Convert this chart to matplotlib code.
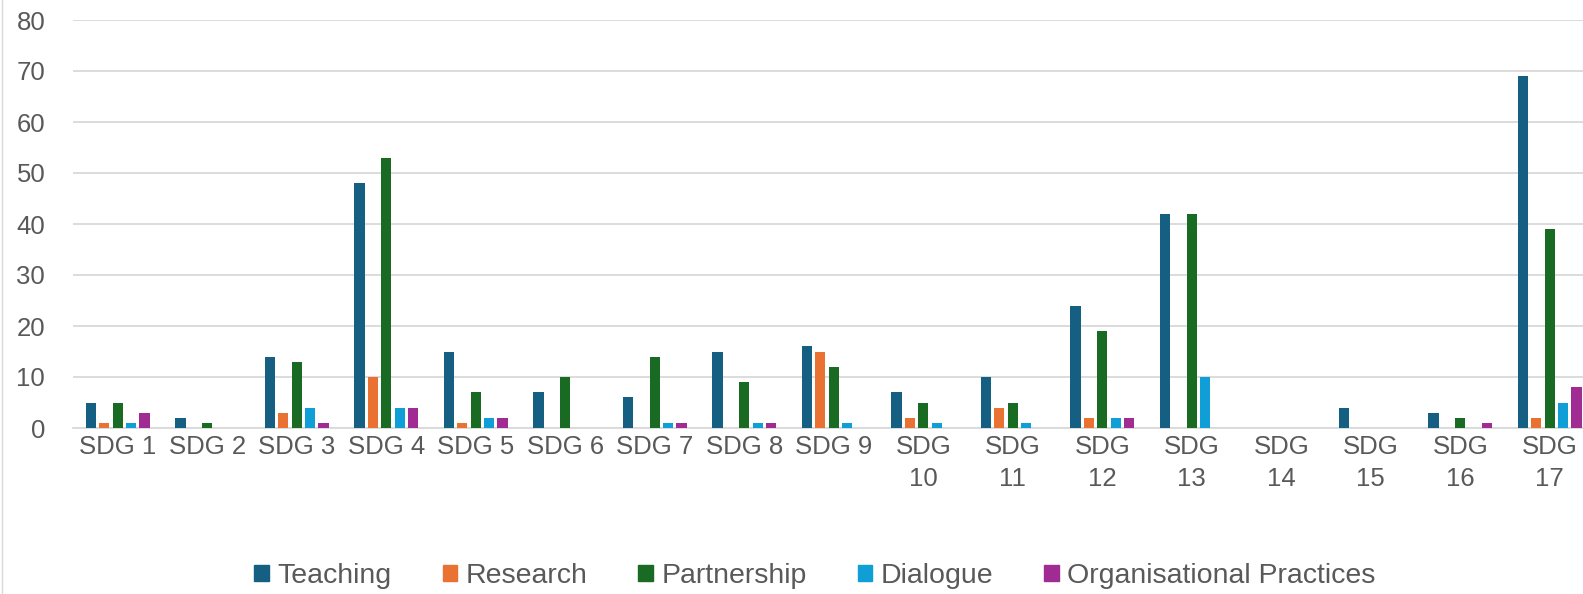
import numpy as np
import matplotlib.pyplot as plt
from matplotlib.patches import Patch

categories = ["SDG 1", "SDG 2", "SDG 3", "SDG 4", "SDG 5", "SDG 6", "SDG 7",
              "SDG 8", "SDG 9", "SDG\n10", "SDG\n11", "SDG\n12", "SDG\n13",
              "SDG\n14", "SDG\n15", "SDG\n16", "SDG\n17"]

teaching = [5, 2, 14, 48, 15, 7, 6, 15, 16, 7, 10, 24, 42, 0, 4, 3, 69]
research = [1, 0, 3, 10, 1, 0, 0, 0, 15, 2, 4, 2, 0, 0, 0, 0, 2]
partnership = [5, 1, 13, 53, 7, 10, 14, 9, 12, 5, 5, 19, 42, 0, 0, 2, 39]
dialogue = [1, 0, 4, 4, 2, 0, 1, 1, 1, 1, 1, 2, 10, 0, 0, 0, 5]
org_practices = [3, 0, 1, 4, 2, 0, 1, 1, 0, 0, 0, 2, 0, 0, 0, 1, 8]

series = [
    ("Teaching", teaching, "#156082"),
    ("Research", research, "#E97132"),
    ("Partnership", partnership, "#196B24"),
    ("Dialogue", dialogue, "#0F9ED5"),
    ("Organisational Practices", org_practices, "#A02B93"),
]

plt.rcParams['font.family'] = ['Liberation Sans', 'DejaVu Sans']

W, H = 1583, 594
fig = plt.figure(figsize=(W / 100, H / 100), dpi=100)
# the reference chart is cropped on the right, so the axes run past the edge
left, right, top, bottom = 73, 73 + 17 * 89.5, 20, 428
ax = fig.add_axes([left / W, 1 - bottom / H, (right - left) / W, (bottom - top) / H])

x = np.arange(len(categories))
step = 0.15
width = 0.115
for i, (name, vals, color) in enumerate(series):
    ax.bar(x + (i - 2) * step, vals, width=width, color=color, label=name,
           zorder=3)

ax.set_xlim(-0.5, len(categories) - 0.5)
ax.set_ylim(0, 80)
ax.set_yticks(np.arange(0, 81, 10))
ax.yaxis.grid(True, color="#d9d9d9", linewidth=1.3, zorder=0)
ax.set_xticks(x)
ax.set_xticklabels(categories, linespacing=1.4)
ax.tick_params(axis="both", length=0, labelsize=18.5, labelcolor="#595959")
ax.tick_params(axis="x", pad=5)
ax.tick_params(axis="y", pad=20)
for s in ["top", "right", "left"]:
    ax.spines[s].set_visible(False)
ax.spines["bottom"].set_color("#d9d9d9")
ax.spines["bottom"].set_linewidth(1.3)

handles = [Patch(color=c, label=n) for n, _, c in series]
fig.legend(handles=handles, loc="center", bbox_to_anchor=(815 / W, 1 - 576 / H),
           ncol=5, frameon=False, fontsize=20.5, labelcolor="#595959",
           handlelength=0.5, handleheight=0.5, handletextpad=0.3,
           columnspacing=1.8, borderpad=0)

fig.add_artist(plt.Line2D([0.001, 0.001], [0, 1], color="#d9d9d9",
                          linewidth=1, transform=fig.transFigure))

fig.savefig("out.png", dpi=100)
plt.close(fig)
